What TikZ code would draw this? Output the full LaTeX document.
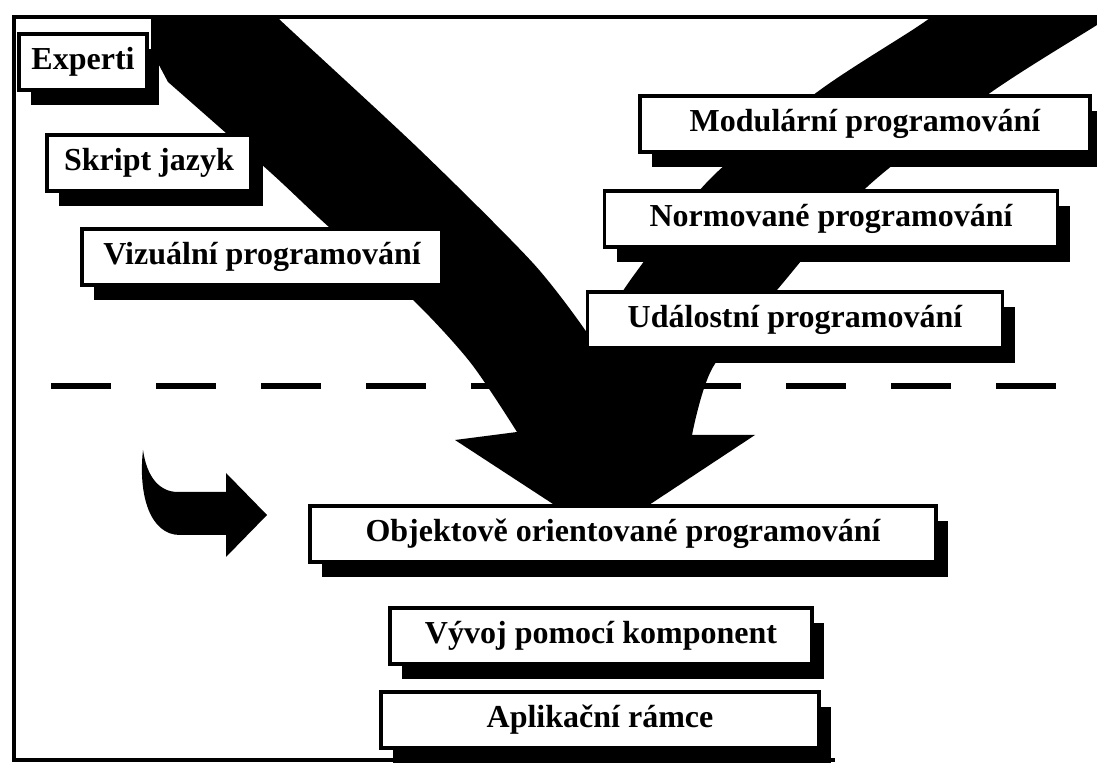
\documentclass[tikz,border=0pt]{standalone}
\usepackage{fontspec}
\setmainfont{Liberation Serif}
\usetikzlibrary{shadows}

\begin{document}
\begin{tikzpicture}
	[
		x=0.5pt, y=-0.5pt,
		textbox/.style={rectangle, draw=black, fill=white, line width=1.8pt, minimum height=28pt, inner sep=0pt, font=\bfseries\fontsize{16}{18}\selectfont, drop shadow={shadow xshift=6pt, shadow yshift=-7.5pt, opacity=1, fill=black}},
		dashline/.style={line width=3pt, dash pattern=on 30pt off 22.5pt},
		frameline/.style={line width=1.6pt},
	]
	\useasboundingbox (0,0) rectangle (1097,763);

	\draw[dashline] (51,386) -- (1097,386);

	\begin{scope}
		\clip (14,17) rectangle (1097,763);
		\fill (151,5) -- (151,50) -- plot[smooth] coordinates {(168,82) (270,172) (330,228) (410,297) (470,362) (517,432)}
			-- (455,440) -- (602,536) -- (755,435)
			-- plot[smooth] coordinates {(692,435) (713,367) (777,290) (867,187) (990,93) (1097,25) (1150,-8)}
			-- plot[smooth] coordinates {(965,-8) (920,25) (820,90) (712,177) (634,275) (592,340)}
			-- plot[smooth] coordinates {(583,327) (532,262) (420,150) (279,19) (262,0)}
			-- cycle;
	\end{scope}

	\draw[frameline] (1097,17) -- (14,17) -- (14,760) -- (835,760);

	\fill (143,450) .. controls (138,495) and (150,535) .. (180,535) -- (226,535) -- (226,557) -- (267,515) -- (226,473) -- (226,492) -- (178,492) .. controls (160,492) and (147,478) .. (143,450) -- cycle;

	\node [textbox, minimum width=64pt] (experti) at (83,62) {Experti};
	\node [textbox, minimum width=102pt] (skript) at (149,163) {Skript jazyk};
	\node [textbox, minimum width=180pt] (vizualni) at (262,257) {Vizuální programování};
	\node [textbox, minimum width=225pt] (modularni) at (865,124) {Modulární programování};
	\node [textbox, minimum width=226.5pt] (normovane) at (831,219) {Normované programování};
	\node [textbox, minimum width=207.5pt] (udalostni) at (795,320) {Událostní programování};
	\node [textbox, minimum width=313pt] (objektove) at (623,534) {Objektově orientované programování};
	\node [textbox, minimum width=211pt] (vyvoj) at (601,636) {Vývoj pomocí komponent};
	\node [textbox, minimum width=219pt] (aplikacni) at (600,720) {Aplikační rámce};
\end{tikzpicture}
\end{document}
